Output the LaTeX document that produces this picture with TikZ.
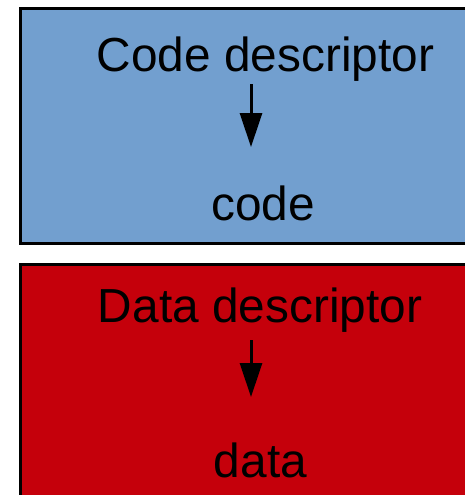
\documentclass[tikz,border=0pt]{standalone}
\usepackage{fontspec}
\setmainfont{Liberation Sans}
\usetikzlibrary{arrows.meta}
\definecolor{codeblue}{HTML}{729FCF}
\definecolor{datared}{HTML}{C5000B}
\begin{document}
\begin{tikzpicture}[x=1pt,y=-1pt,
  panel/.style={draw=black,line width=3pt},
  label/.style={anchor=base,inner sep=0pt,font=\fontsize{47.8}{56}\selectfont},
  pointer/.style={line width=3pt,-{Triangle[length=34pt,width=22pt]}}]
  \useasboundingbox (0,0) rectangle (465,495);
  \clip (0,0) rectangle (465,495);
  % code panel
  \draw[panel,fill=codeblue] (20.5,9) rectangle (480,243);
  \node[label] (cdesc) at (265.5,71) {Code descriptor};
  \node[label] (code) at (263,220) {code};
  \coordinate (ctop) at (251,84);
  \coordinate (cbot) at (251,147);
  \draw[pointer] (ctop) -- (cbot);
  % data panel
  \draw[panel,fill=datared] (20.5,264) rectangle (480,520);
  \node[label] (ddesc) at (260,322) {Data descriptor};
  \node[label] (data) at (260.5,477) {data};
  \coordinate (dtop) at (251,340);
  \coordinate (dbot) at (251,397);
  \draw[pointer] (dtop) -- (dbot);
\end{tikzpicture}
\end{document}
